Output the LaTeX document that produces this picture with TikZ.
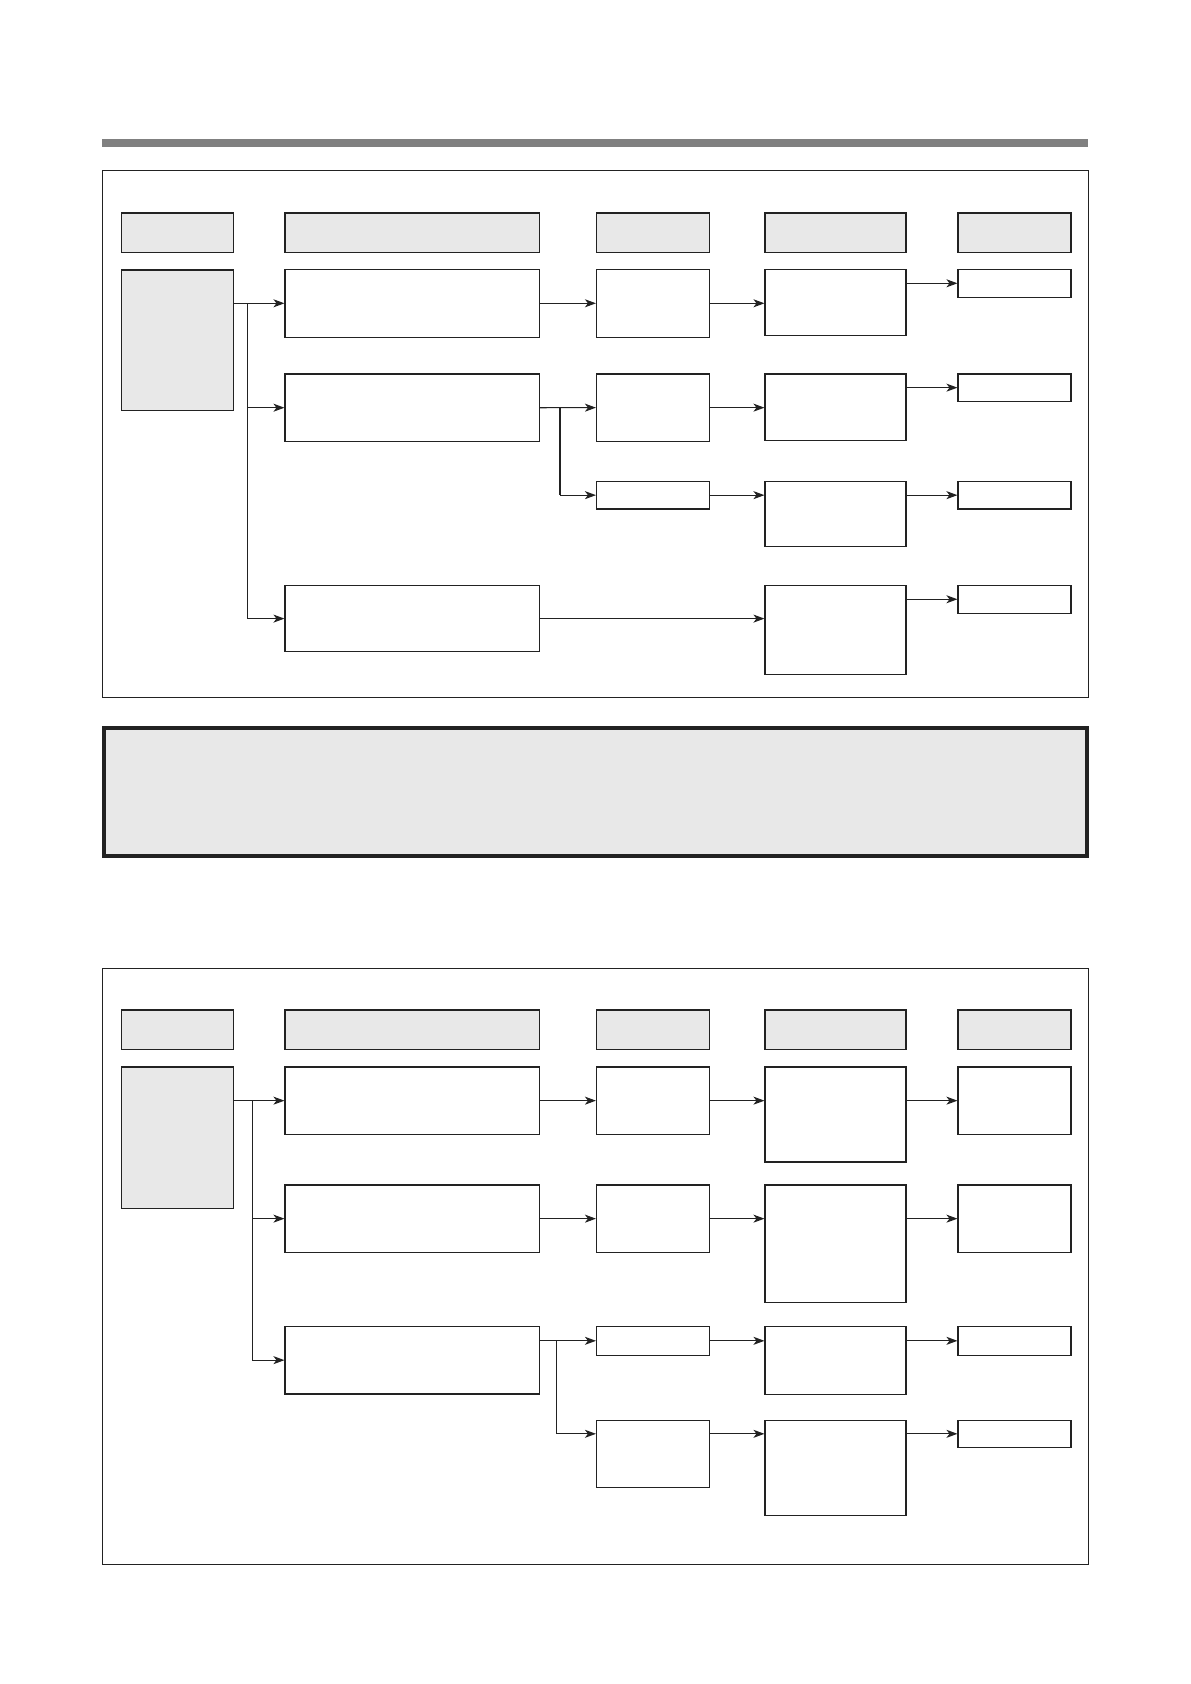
\documentclass[tikz,border=0pt]{standalone}
\usetikzlibrary{arrows.meta,fit}
\definecolor{lc}{HTML}{222222}
\definecolor{hd}{HTML}{E8E8E8}
\definecolor{barc}{HTML}{808080}
\tikzset{
 bx/.style={draw=lc, line width=1.1pt, fill=white, inner sep=0pt, rectangle},
 hbx/.style={bx, fill=hd},
 ar/.style={draw=lc, line width=1.1pt, -{Stealth[length=11pt,width=8pt,inset=3pt]}},
 ln/.style={draw=lc, line width=1.1pt}
}
\begin{document}
\begin{tikzpicture}[x=1pt,y=-1pt]
\useasboundingbox (0,0) rectangle (1191,1684);
% top bar
\fill[barc] (102,139) rectangle (1088,146.7);
% frames
\node[bx, fill=none, line width=1pt, fit={(102.3,170.3) (1088,697)}] (frameA) {};
\node[bx, fill=hd, line width=4pt, fit={(103.5,727.8) (1086.5,856.3)}] (midbox) {};
\node[bx, fill=none, line width=1pt, fit={(102.3,968.7) (1088,1564)}] (frameB) {};

% ===== top section =====
\node[hbx, fit={(121.4,213) (233.4,252.4)}] (th1) {};
\node[hbx, fit={(285,213) (539.5,252.4)}] (th2) {};
\node[hbx, fit={(596.5,213) (709.5,252.4)}] (th3) {};
\node[hbx, fit={(765,213) (906,252.4)}] (th4) {};
\node[hbx, fit={(958,213) (1071,252.4)}] (th5) {};
\node[hbx, fit={(121.4,270) (233.4,410.3)}] (tc1) {};
% row 1
\node[bx, fit={(285,269.3) (539.5,337.3)}] (t12) {};
\node[bx, fit={(596.5,269.3) (709.5,337.3)}] (t13) {};
\node[bx, fit={(765,269.3) (906,335.3)}] (t14) {};
\node[bx, fit={(958,269.3) (1071,297.3)}] (t15) {};
% row 2
\node[bx, fit={(285,374) (539.5,441.4)}] (t22) {};
\node[bx, fit={(596.5,374) (709.5,441.3)}] (t23) {};
\node[bx, fit={(765,374) (906,440.3)}] (t24) {};
\node[bx, fit={(958,374) (1071,401.3)}] (t25) {};
% row 3
\node[bx, fit={(596.5,481.3) (709.5,509)}] (t33) {};
\node[bx, fit={(765,481.3) (906,546.6)}] (t34) {};
\node[bx, fit={(958,481.3) (1071,509)}] (t35) {};
% row 4
\node[bx, fit={(285,585.3) (539.5,651.9)}] (t42) {};
\node[bx, fit={(765,585.3) (906,674.5)}] (t44) {};
\node[bx, fit={(958,585.3) (1071,613.2)}] (t45) {};

\coordinate (ttr) at (247.3,0);
\coordinate (tbr) at (560,0);
\draw[ar] (tc1.east |- t12.west) -- (t12.west);
\draw[ln] (ttr |- t12.west) -- (ttr |- t42.west);
\draw[ar] (ttr |- t22.west) -- (t22.west);
\draw[ar] (ttr |- t42.west) -- (t42.west);
\draw[ar] (t12.east) -- (t13.west);
\draw[ar] (t13.east) -- (t14.west |- t13.east);
\draw[ar] (t14.east |- t15.west) -- (t15.west);
\draw[ar] (t22.east) -- (t23.west);
\draw[ar] (t23.east) -- (t24.west |- t23.east);
\draw[ar] (t24.east |- t25.west) -- (t25.west);
\draw[ln] (tbr |- t22.east) -- (tbr |- t33.west);
\draw[ar] (tbr |- t33.west) -- (t33.west);
\draw[ar] (t33.east) -- (t34.west |- t33.east);
\draw[ar] (t34.east |- t35.west) -- (t35.west);
\draw[ar] (t42.east) -- (t44.west |- t42.east);
\draw[ar] (t44.east |- t45.west) -- (t45.west);

% ===== bottom section =====
\node[hbx, fit={(121.4,1010) (233.4,1049.3)}] (bh1) {};
\node[hbx, fit={(285,1010) (539.5,1049.3)}] (bh2) {};
\node[hbx, fit={(596.5,1010) (709.5,1049.3)}] (bh3) {};
\node[hbx, fit={(765,1010) (906,1049.3)}] (bh4) {};
\node[hbx, fit={(958,1010) (1071,1049.3)}] (bh5) {};
\node[hbx, fit={(121.4,1067) (233.4,1208.3)}] (bc1) {};
% row 1
\node[bx, fit={(285,1067) (539.5,1134.3)}] (b12) {};
\node[bx, fit={(596.5,1067) (709.5,1134.3)}] (b13) {};
\node[bx, fit={(765,1067) (906,1162)}] (b14) {};
\node[bx, fit={(958,1067) (1071,1134.3)}] (b15) {};
% row 2
\node[bx, fit={(285,1185) (539.5,1252.3)}] (b22) {};
\node[bx, fit={(596.5,1185) (709.5,1252.3)}] (b23) {};
\node[bx, fit={(765,1185) (906,1302.7)}] (b24) {};
\node[bx, fit={(958,1185) (1071,1252.3)}] (b25) {};
% row 3
\node[bx, fit={(285,1326.3) (539.5,1394)}] (b32) {};
\node[bx, fit={(596.5,1326.3) (709.5,1355.3)}] (b33) {};
\node[bx, fit={(765,1326.3) (906,1394.3)}] (b34) {};
\node[bx, fit={(958,1326.3) (1071,1355.3)}] (b35) {};
% row 4
\node[bx, fit={(596.5,1420.3) (709.5,1487.3)}] (b43) {};
\node[bx, fit={(765,1420.3) (906,1515.3)}] (b44) {};
\node[bx, fit={(958,1420.3) (1071,1447.3)}] (b45) {};

\coordinate (btr) at (252.3,0);
\coordinate (bbr) at (556.5,0);
\draw[ar] (bc1.east |- b12.west) -- (b12.west);
\draw[ln] (btr |- b12.west) -- (btr |- b32.west);
\draw[ar] (btr |- b22.west) -- (b22.west);
\draw[ar] (btr |- b32.west) -- (b32.west);
\draw[ar] (b12.east) -- (b13.west);
\draw[ar] (b13.east) -- (b14.west |- b13.east);
\draw[ar] (b14.east |- b15.west) -- (b15.west);
\draw[ar] (b22.east) -- (b23.west);
\draw[ar] (b23.east) -- (b24.west |- b23.east);
\draw[ar] (b24.east |- b25.west) -- (b25.west);
\draw[ar] (b32.east |- b33.west) -- (b33.west);
\draw[ln] (bbr |- b33.west) -- (bbr |- b45.west);
\draw[ar] (bbr |- b45.west) -- (b43.west |- b45.west);
\draw[ar] (b33.east) -- (b34.west |- b33.east);
\draw[ar] (b34.east |- b35.west) -- (b35.west);
\draw[ar] (b43.east |- b45.west) -- (b44.west |- b45.west);
\draw[ar] (b44.east |- b45.west) -- (b45.west);
\end{tikzpicture}
\end{document}
